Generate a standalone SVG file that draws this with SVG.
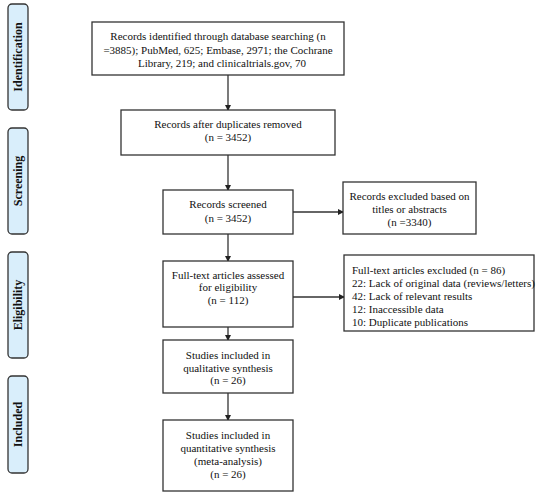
<svg xmlns="http://www.w3.org/2000/svg" width="550" height="495" viewBox="0 0 550 495">
<defs>
<marker id="ah" markerWidth="6" markerHeight="6" refX="5" refY="3" orient="auto" markerUnits="userSpaceOnUse">
<path d="M0,0 L6,3 L0,6 z" fill="#222"/>
</marker>
<style>
.box{fill:#fff;stroke:#333;stroke-width:1.3}
.side{fill:#d9eefb;stroke:#333;stroke-width:1.3}
.t{font-family:"Liberation Serif","Times New Roman",serif;font-size:11px;fill:#111}
.c{text-anchor:middle}
.s{font-family:"Liberation Serif","Times New Roman",serif;font-size:12px;font-weight:bold;fill:#111;text-anchor:middle}
.ln{stroke:#333;stroke-width:1.3;fill:none;marker-end:url(#ah)}
</style>
</defs>
<rect width="550" height="495" fill="#fff"/>
<g id="side-identification"><rect class="side" x="8" y="4" width="20" height="106" rx="4"/><text class="s" transform="translate(22,57) rotate(-90)">Identification</text></g>
<g id="side-screening"><rect class="side" x="8" y="128" width="20" height="106" rx="4"/><text class="s" transform="translate(22,181) rotate(-90)">Screening</text></g>
<g id="side-eligibility"><rect class="side" x="8" y="252" width="20" height="106" rx="4"/><text class="s" transform="translate(22,305) rotate(-90)">Eligibility</text></g>
<g id="side-included"><rect class="side" x="8" y="376" width="20" height="97" rx="4"/><text class="s" transform="translate(22,424.5) rotate(-90)">Included</text></g>

<g id="connectors">
<line class="ln" x1="228" y1="75" x2="228" y2="110"/>
<line class="ln" x1="228" y1="155" x2="228" y2="190"/>
<line class="ln" x1="228" y1="234" x2="228" y2="261"/>
<line class="ln" x1="228" y1="327" x2="228" y2="340"/>
<line class="ln" x1="228" y1="393" x2="228" y2="420"/>
<line class="ln" x1="293" y1="212" x2="343" y2="212"/>
<line class="ln" x1="293" y1="297" x2="344" y2="297"/>
</g>

<g id="n1"><rect class="box" x="92" y="22" width="252" height="53"/>
<text class="t c" x="218" y="40">Records identified through database searching (n</text>
<text class="t c" x="218" y="54">=3885); PubMed, 625; Embase, 2971; the Cochrane</text>
<text class="t c" x="222" y="67">Library, 219; and clinicaltrials.gov, 70</text></g>

<g id="n2"><rect class="box" x="121" y="110" width="214" height="45"/>
<text class="t c" x="228" y="128">Records after duplicates removed</text>
<text class="t c" x="228" y="141">(n = 3452)</text></g>

<g id="n3"><rect class="box" x="163" y="190" width="130" height="44"/>
<text class="t c" x="228" y="208">Records screened</text>
<text class="t c" x="228" y="222">(n = 3452)</text></g>

<g id="n3x"><rect class="box" x="343" y="182" width="133" height="52"/>
<text class="t c" x="409.5" y="200">Records excluded based on</text>
<text class="t c" x="409.5" y="213">titles  or abstracts</text>
<text class="t c" x="409.5" y="226">(n =3340)</text></g>

<g id="n4"><rect class="box" x="163" y="261" width="130" height="66"/>
<text class="t c" x="228" y="279">Full-text articles assessed</text>
<text class="t c" x="228" y="291">for eligibility</text>
<text class="t c" x="228" y="304">(n = 112)</text></g>

<g id="n4x"><rect class="box" x="344" y="255" width="190" height="76"/>
<text class="t" x="352" y="274">Full-text articles excluded (n = 86)</text>
<text class="t" x="352" y="287">22: Lack of original data (reviews/letters)</text>
<text class="t" x="352" y="300">42: Lack of relevant results</text>
<text class="t" x="352" y="313">12: Inaccessible data</text>
<text class="t" x="352" y="326">10: Duplicate publications</text></g>

<g id="n5"><rect class="box" x="163" y="340" width="130" height="53"/>
<text class="t c" x="228" y="359">Studies included in</text>
<text class="t c" x="228" y="372">qualitative synthesis</text>
<text class="t c" x="228" y="384">(n = 26)</text></g>

<g id="n6"><rect class="box" x="163" y="420" width="130" height="71"/>
<text class="t c" x="228" y="439">Studies included in</text>
<text class="t c" x="228" y="452">quantitative synthesis</text>
<text class="t c" x="228" y="465">(meta-analysis)</text>
<text class="t c" x="228" y="478">(n = 26)</text></g>
</svg>
